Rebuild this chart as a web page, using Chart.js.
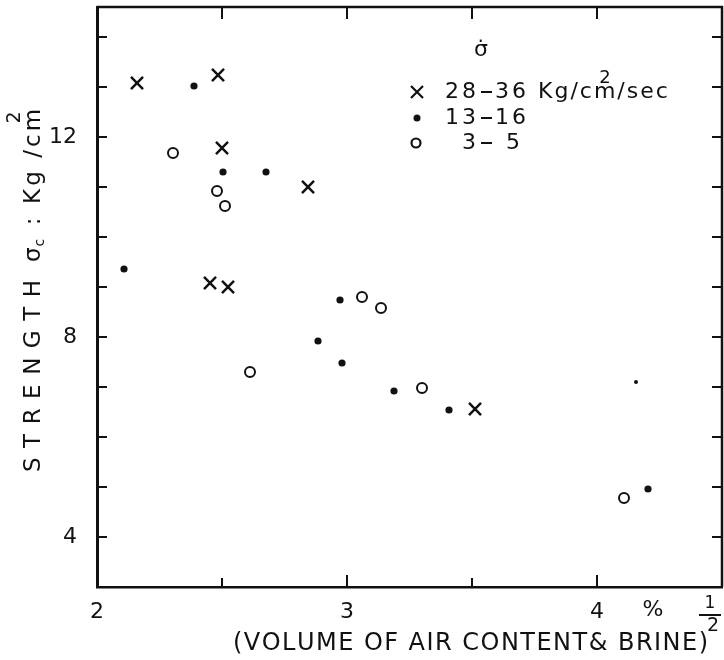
<!DOCTYPE html>
<html>
<head>
<meta charset="utf-8">
<script src="https://cdn.jsdelivr.net/npm/chart.js@4"></script>
<style>
  body { margin: 0; background: #fff; overflow: hidden; }
  #wrap { width: 724px; height: 660px; }
  canvas { display: block; }
</style>
</head>
<body>
<div id="wrap"><canvas id="chart"></canvas></div>
<script>
// values (x = sqrt of brine+air volume %, y = strength kg/cm2)
const fastX = [2.16, 2.484, 2.50, 2.844, 2.452, 2.524, 3.512];
const fastY = [13.08, 13.24, 11.78, 11.0, 9.08, 9.0, 6.56];
const midX = [2.388, 2.504, 2.676, 2.108, 2.972, 2.884, 2.98, 3.188, 3.408, 4.156, 4.204];
const midY = [13.02, 11.3, 11.3, 9.36, 8.74, 7.92, 7.48, 6.92, 6.54, 7.1, 4.96];
const slowX = [2.304, 2.48, 2.512, 3.06, 3.136, 2.612, 3.3, 4.108];
const slowY = [11.68, 10.92, 10.62, 8.8, 8.58, 7.3, 6.98, 4.78];
const xLabels = [2, 3, 4];
const yLabels = [4, 8, 12];
const seriesFrom = ['28', '13', '3'];
const seriesTo = ['36', '16', '5'];

const ink = '#111';
const font = '"DejaVu Sans", sans-serif';

function pts(xs, ys) {
    return xs.map((x, i) => ({ x: x, y: ys[i] }))
}

// draw a string one char at a time with extra spacing, returns end x
function spaced(ctx, text, x, y, gap) {
    for (const ch of text) {
        ctx.fillText(ch, x, y)
        x += ctx.measureText(ch).width + gap
    }
    return x
}

// spread a string so it fills a given length
function fitted(ctx, text, x, y, len) {
    const chars = [...text]
    let w = 0
    chars.forEach(ch => { w += ctx.measureText(ch).width })
    const gap = (len - w) / (chars.length - 1)
    return spaced(ctx, text, x, y, gap)
}

const frame = {
    id: 'frame',
    afterDraw(chart) {
        const { ctx, chartArea: a } = chart
        const xs = chart.scales.x, ys = chart.scales.y
        ctx.save()
        ctx.strokeStyle = ink
        ctx.lineWidth = 2.5
        ctx.beginPath()
        ctx.moveTo(a.left, a.top)
        ctx.lineTo(a.right, a.top)
        ctx.lineTo(a.right, a.bottom)
        ctx.stroke()

        ctx.lineWidth = 2
        ctx.beginPath()
        ys.ticks.forEach(t => {
            if (!Number.isInteger(t.value) || t.value === ys.min || t.value === ys.max) return
            const p = ys.getPixelForValue(t.value)
            ctx.moveTo(a.left, p); ctx.lineTo(a.left + 10, p)
            ctx.moveTo(a.right, p); ctx.lineTo(a.right - 10, p)
        })
        xs.ticks.forEach(t => {
            if (t.value === xs.min || t.value === xs.max) return
            const p = xs.getPixelForValue(t.value)
            const len = Number.isInteger(t.value) ? 12 : 9
            ctx.moveTo(p, a.bottom); ctx.lineTo(p, a.bottom - len)
            ctx.moveTo(p, a.top); ctx.lineTo(p, a.top + 12)
        })
        ctx.stroke()
        ctx.restore()
    }
}

const notes = {
    id: 'notes',
    afterDraw(chart) {
        const ctx = chart.ctx
        ctx.save()
        ctx.fillStyle = ink
        ctx.strokeStyle = ink
        ctx.textBaseline = 'middle'

        // legend
        ctx.font = '22px ' + font
        ctx.textAlign = 'center'
        ctx.fillText('σ\u0307', 481, 50)
        const rows = [92, 118, 143]
        chart.data.datasets.forEach((ds, i) => {
            const mx = 417, my = rows[i]
            ctx.lineWidth = 2.2
            ctx.beginPath()
            if (i === 0) {
                ctx.moveTo(mx - 6, my - 6); ctx.lineTo(mx + 6, my + 6)
                ctx.moveTo(mx + 6, my - 6); ctx.lineTo(mx - 6, my + 6)
                ctx.stroke()
            } else if (i === 1) {
                ctx.arc(mx, my, 3.5, 0, Math.PI * 2); ctx.fill()
            } else {
                ctx.arc(mx - 1, my, 4.5, 0, Math.PI * 2); ctx.stroke()
            }
            ctx.textAlign = 'left'
            let w = 0
            for (const ch of seriesFrom[i]) w += ctx.measureText(ch).width + 3
            spaced(ctx, seriesFrom[i], 479 - w, my, 3)
            ctx.fillRect(481, my - 1, 11, 2)
            let end = spaced(ctx, seriesTo[i], i === 2 ? 506 : 495, my, 3)
            if (i === 0) {
                end = spaced(ctx, ' Kg/cm', end, my, 2)
                ctx.font = '18px ' + font
                ctx.fillText('2', end - 18, my - 14)
                ctx.font = '22px ' + font
                spaced(ctx, '/sec', end, my, 2)
            }
        })

        // y title, rotated
        ctx.save()
        ctx.translate(34, 0)
        ctx.rotate(-Math.PI / 2)
        ctx.font = '23px ' + font
        ctx.textAlign = 'left'
        fitted(ctx, 'STRENGTH', -472, 0, 192)
        let p = spaced(ctx, 'σ', -262, 0, 1)
        ctx.font = '14px ' + font
        p = spaced(ctx, 'c', p, 6, 3)
        ctx.font = '23px ' + font
        p = fitted(ctx, ' : Kg /cm', p, 0, 127)
        ctx.font = '19px ' + font
        ctx.fillText('2', p - 18, -19)
        ctx.restore()

        // x title
        ctx.font = '24px ' + font
        ctx.textAlign = 'left'
        fitted(ctx, '(VOLUME OF AIR CONTENT& BRINE)', 233, 644, 475)
        ctx.font = '19px ' + font
        ctx.textAlign = 'center'
        ctx.fillText('2', 713, 626)
        ctx.font = '22px ' + font
        ctx.fillText('%', 653, 610)
        ctx.font = '17px ' + font
        ctx.fillText('1', 710, 604)
        ctx.fillRect(699, 614, 22, 2)
        ctx.restore()
    }
}

new Chart(document.querySelector('#chart').getContext('2d'), {
    type: 'scatter',
    data: {
        datasets: [
            {
                label: '28-36 Kg/cm2/sec',
                data: pts(fastX, fastY),
                pointStyle: 'crossRot',
                pointRadius: 8.5,
                borderWidth: 2.5,
                borderColor: ink,
                backgroundColor: ink,
            },
            {
                label: '13-16',
                data: pts(midX, midY),
                pointStyle: 'circle',
                pointRadius: c => c.dataIndex === 9 ? 2 : 3.6,
                borderWidth: 0,
                borderColor: ink,
                backgroundColor: ink,
            },
            {
                label: '3-5',
                data: pts(slowX, slowY),
                pointStyle: 'circle',
                pointRadius: 5,
                borderWidth: 2,
                borderColor: ink,
                backgroundColor: '#fff',
            }
        ]
    },
    options: {
        responsive: true,
        maintainAspectRatio: false,
        animation: false,
        layout: { autoPadding: false, padding: { top: 7, right: 2, left: 0, bottom: 0 } },
        plugins: {
            legend: { display: false },
            tooltip: { enabled: false }
        },
        scales: {
            x: {
                type: 'linear',
                min: 2,
                max: 4.5,
                afterFit: s => { s.height = 73; s.paddingLeft = 0; s.paddingRight = 0 },
                ticks: {
                    stepSize: 0.5,
                    padding: 12,
                    color: ink,
                    font: { family: font, size: 22 },
                    maxRotation: 0,
                    autoSkip: false,
                    callback: v => xLabels.includes(v) ? String(v) : ''
                },
                grid: { drawOnChartArea: false, drawTicks: false },
                border: { color: ink, width: 2.5 }
            },
            y: {
                type: 'linear',
                min: 3,
                max: 14.6,
                afterFit: s => { s.width = 97; s.paddingTop = 0; s.paddingBottom = 0 },
                ticks: {
                    stepSize: 1,
                    padding: 20,
                    color: ink,
                    font: { family: font, size: 22 },
                    autoSkip: false,
                    callback: v => yLabels.includes(v) ? String(v) : ''
                },
                grid: { drawOnChartArea: false, drawTicks: false },
                border: { color: ink, width: 3 }
            }
        }
    },
    plugins: [frame, notes]
})
</script>
</body>
</html>
